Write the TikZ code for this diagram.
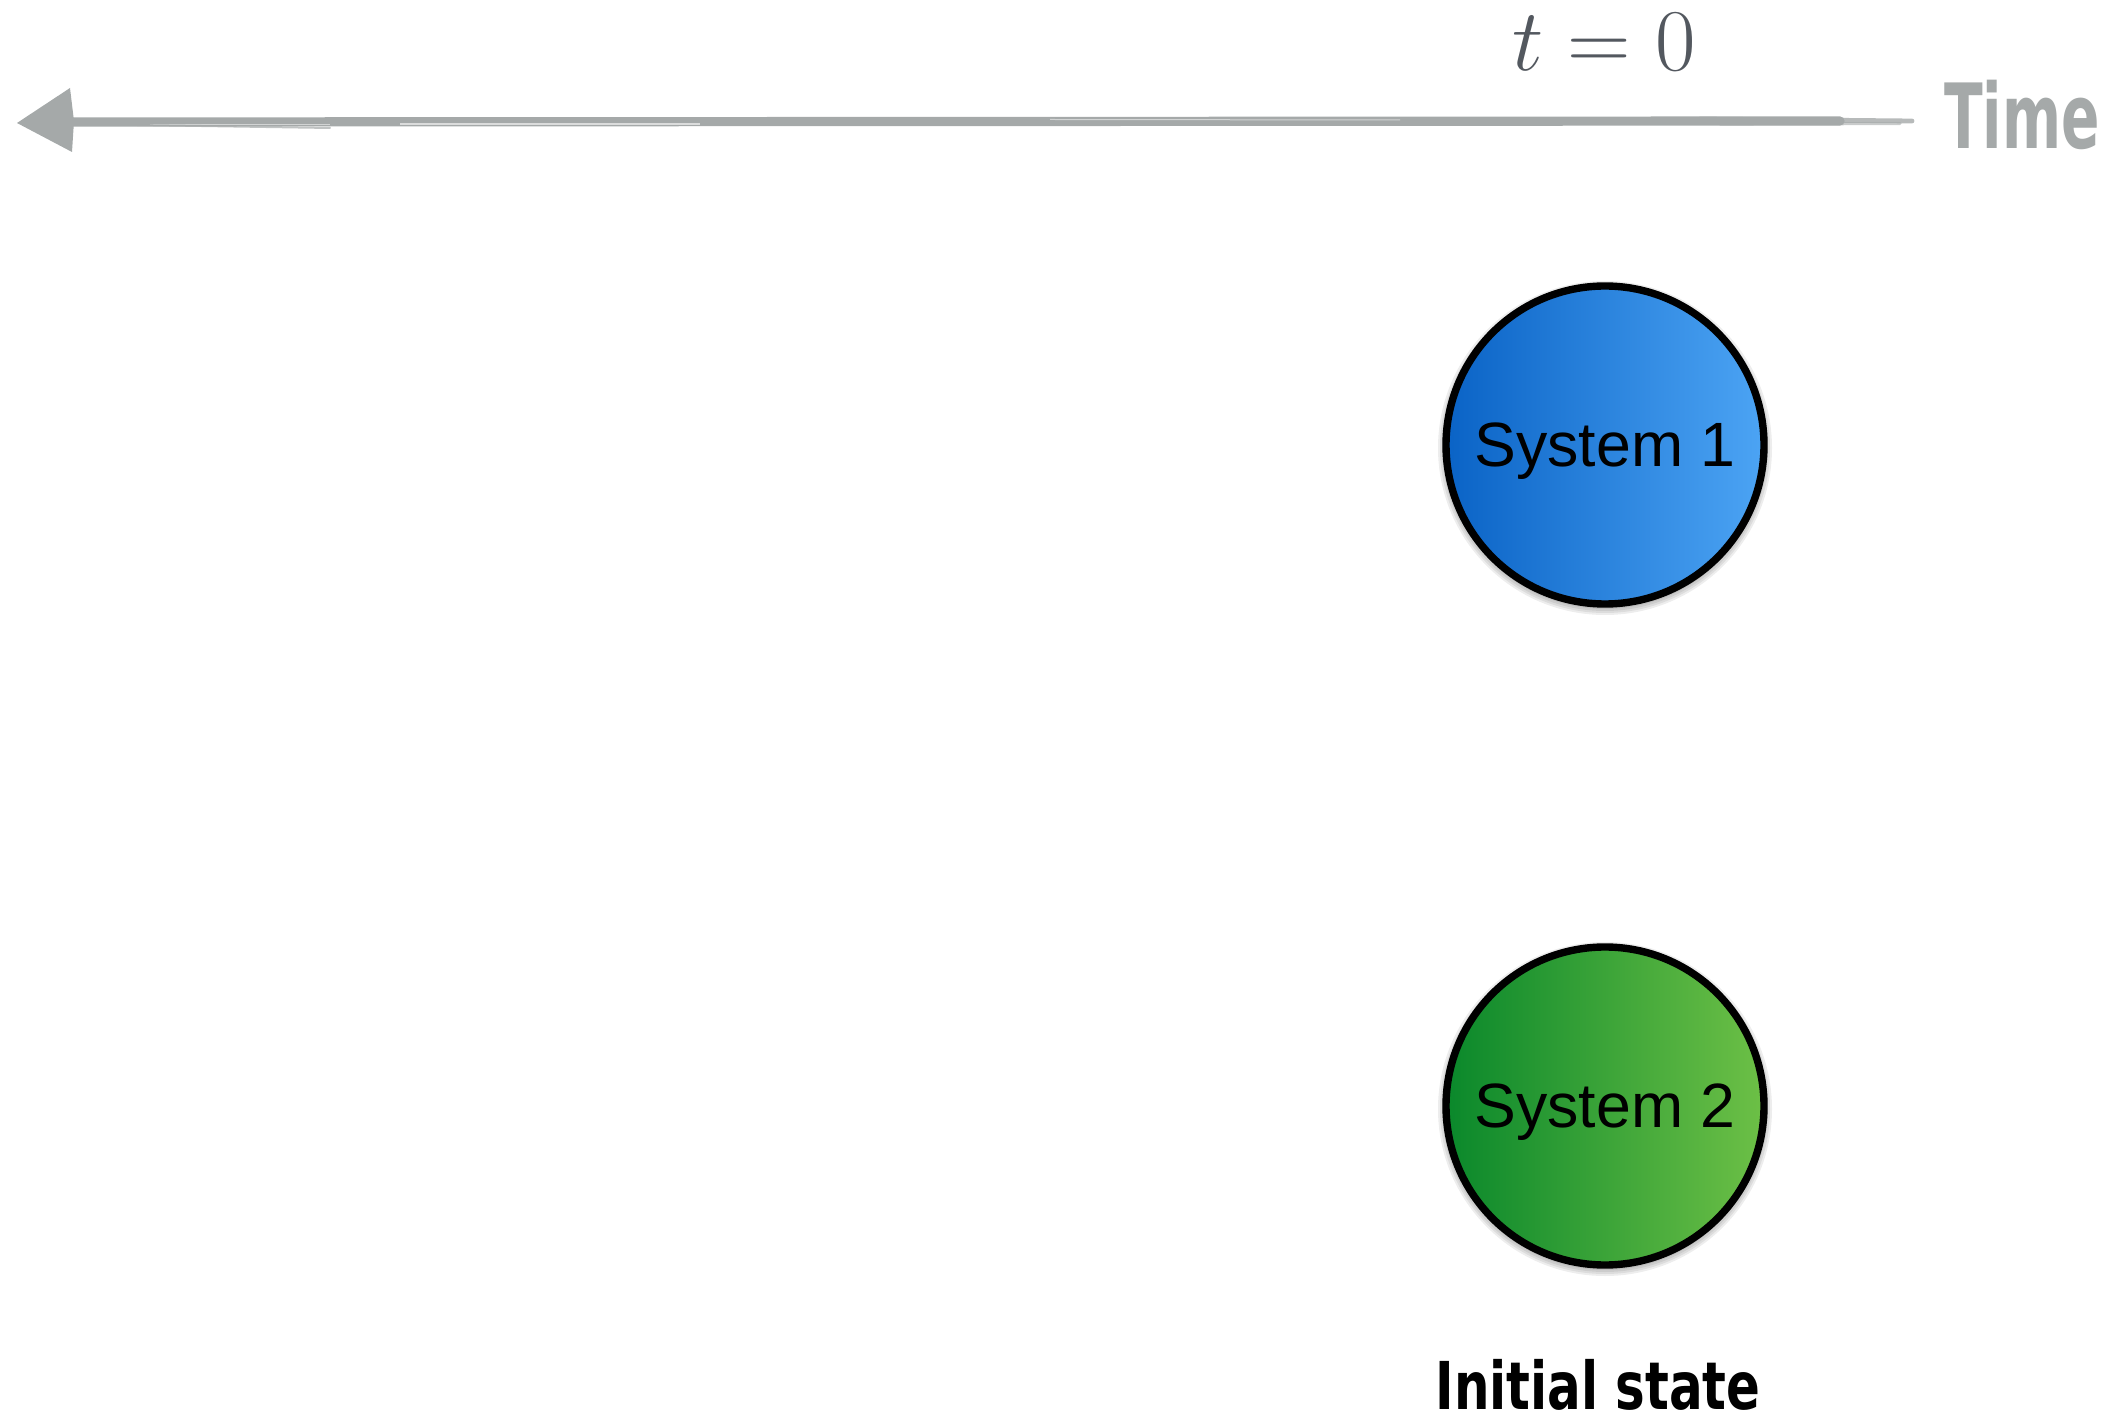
\documentclass[tikz,border=0pt]{standalone}
\usepackage{fontspec}
\newfontfamily\labelfont{Liberation Sans}
\newfontfamily\handfont{DejaVu Sans Condensed}

\definecolor{axisgray}{HTML}{A5A9A9}
\definecolor{mathgray}{HTML}{53585F}
\definecolor{blueL}{HTML}{0A63C6}
\definecolor{blueR}{HTML}{4CA4F4}
\definecolor{greenL}{HTML}{0A882B}
\definecolor{greenR}{HTML}{6DC046}

\tikzset{
  sysnode/.style={circle, draw=black, line width=3.7pt, minimum size=159pt,
    inner sep=0pt, text depth=0pt,
    font=\labelfont\fontsize{31.3}{36}\selectfont},
  softshadow/.style={fill=black, opacity=0.07},
  handlabel/.style={inner sep=0pt, font=\handfont\bfseries\fontsize{#1}{#1}\selectfont},
  brush/.style={axisgray, line cap=round},
}

\begin{document}
\begin{tikzpicture}[x=0.5pt,y=-0.5pt]
\useasboundingbox (0,0) rectangle (2122,1422);

% time axis labels
\node[anchor=base, text=mathgray, inner sep=0pt]
  (tzero) at (1604,71) {\scalebox{1.77}{\Huge$t = 0$}};
\node[handlabel=45, text=axisgray, xscale=0.7] (timelbl) at (2022,115) {Time};

% brush-stroke axis running right to left
\coordinate (axisstart) at (1912,121);
\coordinate (axisbody) at (1840,121);
\coordinate (axisend) at (72,122);
\draw[brush, line width=4.6pt] (axisbody) -- (axisend);
\draw[brush, line width=2.4pt, opacity=0.8] (1700,119) -- (axisstart);
\draw[brush, line width=1.6pt, opacity=0.6] (1720,124) -- (1900,123.5);
\draw[white, line width=0.6pt, opacity=0.6] (400,124) -- (700,124);
\draw[white, line width=0.5pt, opacity=0.5] (1050,119.5) -- (1400,120);
\draw[white, line width=0.5pt, opacity=0.5] (150,124.5) -- (330,124.5);
\draw[brush, line width=1pt, opacity=0.7] (72,124) -- (330,128);
% arrowhead
\fill[axisgray] (17,123) -- (70,88) -- (74,121) -- (72,152) -- cycle;

% soft shadows under the two circles
\foreach \cy in {444,1105}{
  \foreach \r in {161,163,165,167}
    \fill[softshadow] (1605,\cy+4) circle[radius=\r*0.5pt];
}

% systems
\node[sysnode, left color=blueL, right color=blueR] (sys1) at (1605,445) {System 1};
\node[sysnode, left color=greenL, right color=greenR] (sys2) at (1605,1106) {System 2};

% caption
\node[handlabel=33, text=black, xscale=0.84] (initial) at (1598,1385) {Initial state};
\end{tikzpicture}
\end{document}
